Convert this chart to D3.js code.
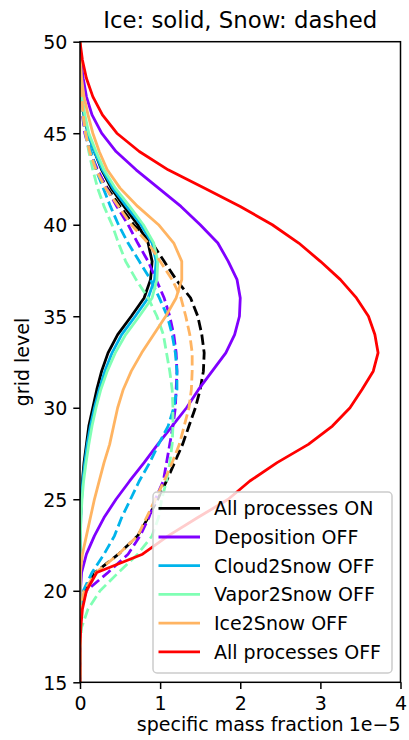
<!DOCTYPE html>
<html>
<head>
<meta charset="utf-8">
<title>ice snow profiles</title>
<script src="https://d3js.org/d3.v7.min.js" charset="utf-8"></script>
<style>
body { margin: 0; background: white; }
svg { font-family: "DejaVu Sans", sans-serif; }
</style>
</head>
<body>
<script>
// grid levels, top to bottom
var levels = [50,49,48,47,46,45,44,43,42,41,40,39,38,37,36,35,34,33,32,31,30,29,28,27,26,25,24,23,22,21,20,19,18,17,16,15];

var xTicks = [0,1,2,3,4];
var yTicks = [15,20,25,30,35,40,45,50];

var names = ["All processes ON","Deposition OFF","Cloud2Snow OFF","Vapor2Snow OFF","Ice2Snow OFF","All processes OFF"];
var colors = ["#000000","#8000ff","#00b4eb","#80ffb4","#ffb462","#ff0000"];

// ice (solid), units of 1e-5
var iceOn      = [0,0,0.005,0.02,0.05,0.1,0.18,0.27,0.39,0.55,0.72,0.85,0.9,0.88,0.8,0.64,0.47,0.35,0.27,0.21,0.16,0.11,0.08,0.05,0.03,0.015,0.007,0.003,0.001,0,0,0,0,0,0,0];
var iceDep     = [0,0.01,0.04,0.08,0.15,0.27,0.45,0.7,0.98,1.26,1.5,1.72,1.85,1.96,2.0,1.99,1.93,1.82,1.65,1.48,1.33,1.15,0.97,0.8,0.62,0.45,0.3,0.18,0.08,0.02,0.005,0,0,0,0,0];
var iceCloud   = [0,0,0.005,0.02,0.05,0.1,0.18,0.28,0.41,0.58,0.76,0.9,0.95,0.93,0.85,0.69,0.52,0.4,0.31,0.24,0.18,0.13,0.09,0.06,0.035,0.02,0.01,0.004,0.001,0,0,0,0,0,0,0];
var iceVapor   = [0,0,0.005,0.025,0.06,0.11,0.2,0.3,0.44,0.62,0.79,0.92,0.97,0.96,0.9,0.74,0.57,0.44,0.34,0.26,0.2,0.15,0.11,0.075,0.045,0.025,0.012,0.005,0.002,0,0,0,0,0,0,0];
var iceIce2    = [0,0.005,0.02,0.05,0.1,0.16,0.24,0.34,0.5,0.72,0.98,1.17,1.27,1.27,1.2,1.07,0.92,0.77,0.64,0.54,0.47,0.42,0.37,0.3,0.24,0.18,0.13,0.08,0.03,0.005,0,0,0,0,0,0];
var iceOff     = [0,0.03,0.08,0.16,0.28,0.46,0.74,1.1,1.55,2.0,2.4,2.73,3.0,3.25,3.45,3.6,3.68,3.72,3.66,3.52,3.37,3.15,2.85,2.46,2.12,1.85,1.47,1.1,0.78,0.21,0.08,0.03,0.01,0,0,0];

// snow (dashed)
var snowOn     = [0,0,0.005,0.02,0.04,0.07,0.13,0.21,0.34,0.5,0.67,0.9,1.05,1.2,1.38,1.47,1.52,1.55,1.54,1.5,1.44,1.36,1.28,1.18,1.08,0.97,0.85,0.72,0.48,0.19,0.05,0.01,0,0,0,0];
var snowDep    = [0,0,0.005,0.015,0.03,0.06,0.12,0.22,0.33,0.46,0.6,0.72,0.85,0.95,1.05,1.12,1.17,1.2,1.21,1.2,1.19,1.16,1.12,1.08,1.04,0.94,0.86,0.75,0.6,0.35,0.08,0.01,0,0,0,0];
var snowCloud  = [0,0,0.01,0.02,0.045,0.08,0.14,0.2,0.29,0.38,0.48,0.6,0.74,0.88,0.99,1.09,1.15,1.19,1.21,1.21,1.17,1.1,0.98,0.87,0.74,0.63,0.52,0.43,0.3,0.15,0.04,0.01,0,0,0,0];
var snowVapor  = [0,0,0.005,0.015,0.035,0.07,0.11,0.16,0.22,0.3,0.4,0.48,0.57,0.7,0.85,0.96,1.04,1.08,1.12,1.15,1.16,1.16,1.15,1.12,1.08,1.02,0.98,0.9,0.72,0.48,0.25,0.1,0.02,0,0,0];
var snowIce2   = [0,0,0.005,0.02,0.04,0.07,0.12,0.2,0.32,0.48,0.64,0.85,1.0,1.15,1.26,1.32,1.37,1.4,1.4,1.39,1.36,1.3,1.24,1.15,1.05,0.94,0.83,0.72,0.48,0.2,0.05,0.01,0,0,0,0];

var iceSeries  = [iceOn, iceDep, iceCloud, iceVapor, iceIce2, iceOff];
var snowSeries = [snowOn, snowDep, snowCloud, snowVapor, snowIce2, null];

var w = 409, h = 740;
var plotL = 80, plotR = 400.5, plotT = 41.7, plotB = 682.3;
var lw = 2.8;

var svg = d3.select("body").append("svg")
    .attr("width", w)
    .attr("height", h);

var xScale = d3.scaleLinear().domain([0, 4]).range([plotL, plotR]);
var yScale = d3.scaleLinear().domain([15, 50]).range([plotB, plotT]);

svg.append("defs").append("clipPath").attr("id", "plotclip")
    .append("rect")
    .attr("x", plotL).attr("y", plotT)
    .attr("width", plotR - plotL).attr("height", plotB - plotT);

var line = d3.line()
    .x(d => xScale(d[0]))
    .y(d => yScale(d[1]));

var plot = svg.append("g").attr("clip-path", "url(#plotclip)");

for (var i = 0; i < names.length; ++i) {
    var ice = iceSeries[i].map((v, j) => [v, levels[j]]);
    plot.append("path")
        .attr("d", line(ice))
        .attr("fill", "none")
        .attr("stroke", colors[i])
        .attr("stroke-width", lw)
        .attr("stroke-linejoin", "round");
    if (snowSeries[i]) {
        var snow = snowSeries[i].map((v, j) => [v, levels[j]]);
        plot.append("path")
            .attr("d", line(snow))
            .attr("fill", "none")
            .attr("stroke", colors[i])
            .attr("stroke-width", lw)
            .attr("stroke-dasharray", "10.4,4.5");
    }
}

// axes
var xAxis = d3.axisBottom(xScale).tickValues(xTicks).tickFormat(d3.format("d"))
    .tickSizeInner(6.7).tickSizeOuter(0).tickPadding(4);
var yAxis = d3.axisLeft(yScale).tickValues(yTicks).tickFormat(d3.format("d"))
    .tickSizeInner(6.7).tickSizeOuter(0).tickPadding(6);

var gx = svg.append("g").attr("transform", "translate(0," + plotB + ")").call(xAxis);
var gy = svg.append("g").attr("transform", "translate(" + plotL + ",0)").call(yAxis);

[gx, gy].forEach(function(g) {
    g.select(".domain").remove();
    g.selectAll(".tick line").attr("stroke", "#000").attr("stroke-width", 1.5);
    g.selectAll(".tick text").attr("fill", "#000").style("font-size", "19px")
        .style("font-family", "DejaVu Sans");
});
gx.selectAll(".tick text").attr("dy", "0.88em");
gy.selectAll(".tick text").attr("dy", "0.36em");

// frame
svg.append("rect")
    .attr("x", plotL).attr("y", plotT)
    .attr("width", plotR - plotL).attr("height", plotB - plotT)
    .attr("fill", "none")
    .attr("stroke", "#000")
    .attr("stroke-width", 1.5);

// legend
var legend = svg.append("g");
legend.append("rect")
    .attr("x", 153).attr("y", 492)
    .attr("width", 239).attr("height", 181)
    .attr("rx", 4).attr("ry", 4)
    .attr("fill", "white").attr("fill-opacity", 0.8)
    .attr("stroke", "#cccccc").attr("stroke-width", 1.5);

var rows = legend.selectAll(".row")
    .data(names)
    .enter()
    .append("g")
    .attr("transform", (d, i) => "translate(0," + (508.3 + i * 28.7) + ")");
rows.append("line")
    .attr("x1", 158.5).attr("x2", 200)
    .attr("stroke", (d, i) => colors[i])
    .attr("stroke-width", lw);
rows.append("text")
    .attr("x", 214)
    .attr("dy", "0.36em")
    .style("font-size", "19px")
    .attr("fill", "#000")
    .text(d => d);

// labels
svg.append("text")
    .attr("x", (plotL + plotR) / 2).attr("y", 28)
    .attr("text-anchor", "middle")
    .style("font-size", "22.8px")
    .text("Ice: solid, Snow: dashed");

svg.append("text")
    .attr("x", (plotL + plotR) / 2).attr("y", 731)
    .attr("text-anchor", "middle")
    .style("font-size", "19px")
    .text("specific mass fraction");

svg.append("text")
    .attr("x", plotR).attr("y", 731)
    .attr("text-anchor", "end")
    .style("font-size", "19px")
    .text("1e\u22125");

svg.append("text")
    .attr("transform", "translate(29," + ((plotT + plotB) / 2) + ") rotate(-90)")
    .attr("text-anchor", "middle")
    .style("font-size", "19px")
    .text("grid level");
</script>
</body>
</html>
